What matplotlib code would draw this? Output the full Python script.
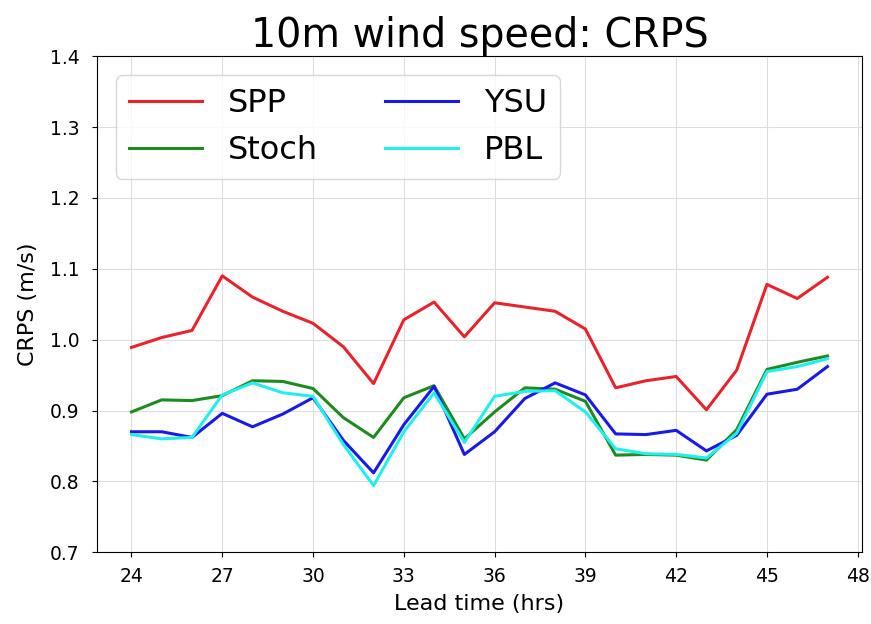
import matplotlib.pyplot as plt

# Lead times (hours) and CRPS for each scheme
lead_time = list(range(24, 48))

spp = [0.989, 1.003, 1.013, 1.090, 1.060, 1.040, 1.023, 0.990, 0.938, 1.028,
       1.053, 1.004, 1.052, 1.046, 1.040, 1.015, 0.932, 0.942, 0.948, 0.901,
       0.957, 1.078, 1.058, 1.088]
stoch = [0.898, 0.915, 0.914, 0.921, 0.942, 0.941, 0.931, 0.890, 0.862, 0.918,
         0.935, 0.860, 0.898, 0.932, 0.930, 0.913, 0.837, 0.838, 0.837, 0.830,
         0.873, 0.958, 0.968, 0.977]
ysu = [0.870, 0.870, 0.862, 0.896, 0.877, 0.895, 0.918, 0.858, 0.812, 0.880,
       0.934, 0.838, 0.870, 0.917, 0.939, 0.922, 0.867, 0.866, 0.872, 0.843,
       0.865, 0.923, 0.930, 0.962]
pbl = [0.866, 0.860, 0.862, 0.922, 0.939, 0.925, 0.920, 0.852, 0.794, 0.870,
       0.925, 0.855, 0.920, 0.927, 0.928, 0.898, 0.846, 0.839, 0.838, 0.833,
       0.868, 0.955, 0.962, 0.973]

fig = plt.figure(figsize=(8.71, 6.24), dpi=100)
ax = fig.add_axes([0.111, 0.115, 0.879, 0.795])

ax.plot(lead_time, spp, color='#e8232e', lw=2.2, label='SPP')
ax.plot(lead_time, stoch, color='#1f8a1f', lw=2.2, label='Stoch')
ax.plot(lead_time, ysu, color='#1a1ae6', lw=2.2, label='YSU')
ax.plot(lead_time, pbl, color='#22eeee', lw=2.2, label='PBL')

ax.set_ylim(0.7, 1.4)
ax.set_xticks(range(24, 49, 3))
ax.set_yticks([0.7, 0.8, 0.9, 1.0, 1.1, 1.2, 1.3, 1.4])
ax.tick_params(labelsize=13.5)
ax.tick_params(axis='x', pad=7)
ax.tick_params(axis='y', pad=9)
ax.grid(color='#dddddd', lw=0.8)

ax.set_title('10m wind speed: CRPS', fontsize=28.5, pad=5)
ax.set_xlabel('Lead time (hrs)', fontsize=16, labelpad=6)
ax.set_ylabel('CRPS (m/s)', fontsize=16, labelpad=8)
ax.legend(loc='upper left', ncol=2, fontsize=23, handlelength=2.3,
          columnspacing=2.1, borderaxespad=0.6)

fig.savefig('out.png')
